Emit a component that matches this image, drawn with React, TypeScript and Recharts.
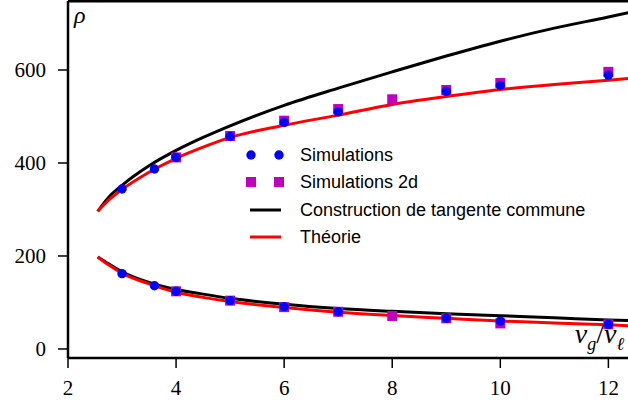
import React from 'react';
import { ComposedChart, Line, Scatter, XAxis, YAxis, ReferenceLine } from 'recharts';

// theory / common-tangent curves, sampled at curveX
const curveX = [2.55, 2.75, 3, 3.5, 4, 4.5, 5, 6, 7, 8, 9, 10, 11, 12, 12.4];
const tangentUpper = [296, 326, 352, 394, 427, 455, 480, 524, 561, 596, 630, 662, 690, 714, 724];
const tangentLower = [198, 183, 166, 143, 128, 118, 109, 96, 87, 81, 76, 71.5, 67, 62.5, 61];
const theoryUpper = [296, 320, 343, 380, 410, 434, 455, 481, 503, 526, 543, 558, 569, 578, 582];
const theoryLower = [198, 181, 163, 140, 122, 111, 102, 89, 79, 72, 66, 60, 56, 52, 50];

// simulation points
const simX = [3, 3.6, 4, 5, 6, 7, 9, 10, 12];
const simUpper = [344, 387, 412, 457, 487, 510, 554, 567, 589];
const simLower = [162, 136, 124, 104, 91, 80, 66, 60, 53];

const sim2dX = [4, 5, 6, 7, 8, 9, 10, 12];
const sim2dUpper = [412, 458, 491, 516, 537, 557, 572, 596];
const sim2dLower = [124, 104, 90, 80, 71, 66, 55, 53];

const xTicks = [2, 4, 6, 8, 10, 12];
const yTicks = [0, 200, 400, 600];

const X_MIN = 2;
const X_MAX = 12.363;
const Y_MIN = -19.4;
const Y_MAX = 748.4;

const toPts = (xs: number[], ys: number[]) => xs.map((x, i) => ({ x, y: ys[i] }));

const simData = [...toPts(simX, simUpper), ...toPts(simX, simLower)];
const sim2dData = [...toPts(sim2dX, sim2dUpper), ...toPts(sim2dX, sim2dLower)];

const BLUE = '#0000ff';
const MAGENTA = '#bf00bf';
const RED = '#ff0000';

const serif = 'Liberation Serif, DejaVu Serif, serif';
const sans = 'Liberation Sans, Arial, sans-serif';

const Dot = (props: any) => <circle cx={props.cx} cy={props.cy} r={4.7} fill={BLUE} />;
const Square = (props: any) => (
    <rect x={props.cx - 5} y={props.cy - 5} width={10} height={10} fill={MAGENTA} />
);

const XTick = (props: any) => (
    <text x={props.x} y={props.y + 6} textAnchor="middle" dominantBaseline="hanging" fontSize={21} fontFamily={serif} fill="#000">
        {props.payload.value}
    </text>
);
const YTick = (props: any) => (
    <text x={props.x} y={props.y} textAnchor="end" dominantBaseline="central" fontSize={21} fontFamily={serif} fill="#000">
        {props.payload.value}
    </text>
);

const legendRows = [
    { label: 'Simulations', kind: 'dot' },
    { label: 'Simulations 2d', kind: 'square' },
    { label: 'Construction de tangente commune', kind: 'black' },
    { label: 'Théorie', kind: 'red' },
];

const LegendBox = () => (
    <div style={{ fontFamily: sans, fontSize: 18, color: '#000', lineHeight: '20px' }}>
        {legendRows.map((r) => (
            <div key={r.label} style={{ display: 'flex', alignItems: 'center', height: 27.5 }}>
                <svg width={50} height={20} style={{ marginRight: 10 }}>
                    {r.kind === 'dot' && (
                        <>
                            <circle cx={11} cy={10} r={4.7} fill={BLUE} />
                            <circle cx={39} cy={10} r={4.7} fill={BLUE} />
                        </>
                    )}
                    {r.kind === 'square' && (
                        <>
                            <rect x={6} y={5} width={10} height={10} fill={MAGENTA} />
                            <rect x={34} y={5} width={10} height={10} fill={MAGENTA} />
                        </>
                    )}
                    {r.kind === 'black' && <line x1={10} x2={41} y1={10} y2={10} stroke="#000" strokeWidth={3} />}
                    {r.kind === 'red' && <line x1={10} x2={41} y1={10} y2={10} stroke={RED} strokeWidth={3} />}
                </svg>
                <span>{r.label}</span>
            </div>
        ))}
    </div>
);

export default function App() {
    return (
        <div style={{ position: 'absolute', left: 0, top: 0, width: 628, height: 403, overflow: 'hidden', background: '#fff' }}>
            <ComposedChart width={628} height={403} margin={{ top: 1, right: 0, bottom: 0, left: 0 }}>
                <XAxis
                    dataKey="x"
                    type="number"
                    domain={[X_MIN, X_MAX]}
                    ticks={xTicks}
                    allowDataOverflow
                    height={45}
                    tickSize={10}
                    tickMargin={6}
                    axisLine={{ stroke: '#000', strokeWidth: 2.5 }}
                    tickLine={{ stroke: '#000', strokeWidth: 1.5 }}
                    tick={XTick}
                />
                <YAxis
                    type="number"
                    domain={[Y_MIN, Y_MAX]}
                    ticks={yTicks}
                    allowDataOverflow
                    width={68}
                    tickSize={10}
                    tickMargin={12}
                    axisLine={{ stroke: '#000', strokeWidth: 2.5 }}
                    tickLine={{ stroke: '#000', strokeWidth: 1.5 }}
                    tick={YTick}
                />
                <ReferenceLine y={Y_MAX} stroke="#000" strokeWidth={3} />
                <Line data={toPts(curveX, tangentUpper)} dataKey="y" type="monotone" stroke="#000" strokeWidth={3} dot={false} isAnimationActive={false} />
                <Line data={toPts(curveX, tangentLower)} dataKey="y" type="monotone" stroke="#000" strokeWidth={3} dot={false} isAnimationActive={false} />
                <Line data={toPts(curveX, theoryUpper)} dataKey="y" type="monotone" stroke={RED} strokeWidth={3} dot={false} isAnimationActive={false} />
                <Line data={toPts(curveX, theoryLower)} dataKey="y" type="monotone" stroke={RED} strokeWidth={3} dot={false} isAnimationActive={false} />
                <Scatter data={sim2dData} dataKey="y" shape={Square} isAnimationActive={false} />
                <Scatter data={simData} dataKey="y" shape={Dot} isAnimationActive={false} />
            </ComposedChart>
            <div style={{ position: 'absolute', left: 240, top: 141 }}>
                <LegendBox />
            </div>
            <div style={{ position: 'absolute', left: 74, top: 2, fontFamily: serif, fontStyle: 'italic', fontSize: 24 }}>ρ</div>
            <div style={{ position: 'absolute', right: 4, top: 318, fontFamily: serif, fontSize: 28, whiteSpace: 'nowrap' }}>
                <i>v</i><sub style={{ fontSize: 18 }}><i>g</i></sub>/<i>v</i><sub style={{ fontSize: 18 }}><i>ℓ</i></sub>
            </div>
        </div>
    );
}
